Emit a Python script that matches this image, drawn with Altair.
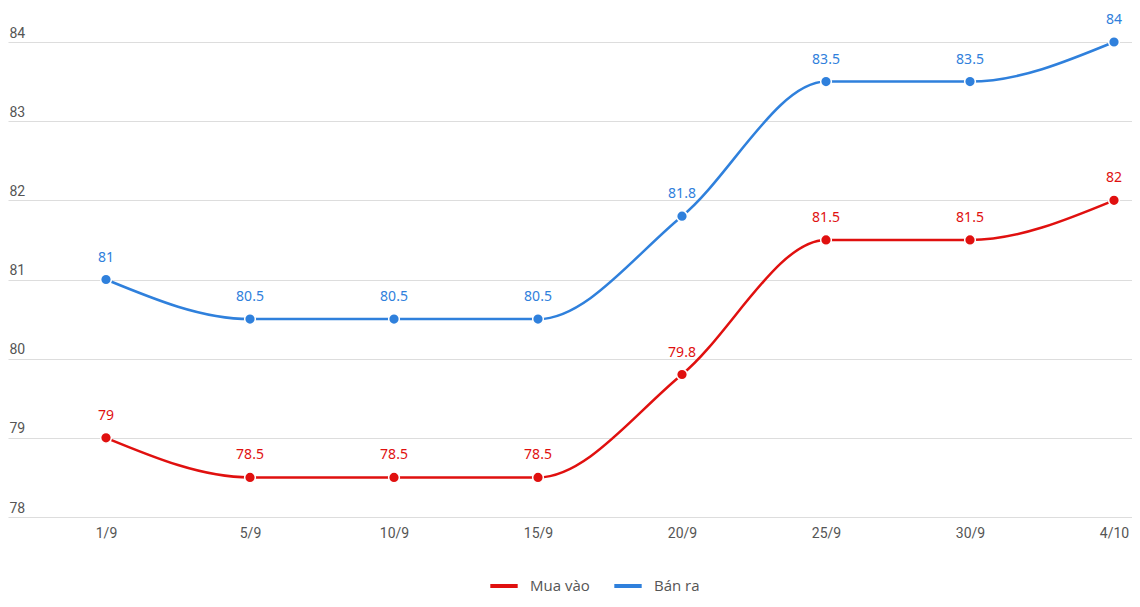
import json
import altair as alt
import pandas as pd

dates = ["1/9", "5/9", "10/9", "15/9", "20/9", "25/9", "30/9", "4/10"]
mua_vao = [79, 78.5, 78.5, 78.5, 79.8, 81.5, 81.5, 82]
ban_ra = [81, 80.5, 80.5, 80.5, 81.8, 83.5, 83.5, 84]
series_names = ["Mua vào", "Bán ra"]
series_colors = ["#e0100f", "#2f80dc"]
y_ticks = [78, 79, 80, 81, 82, 83, 84]

rows = []
for i, d in enumerate(dates):
    rows.append({"idx": i, "date": d, "series": series_names[0], "value": mua_vao[i]})
    rows.append({"idx": i, "date": d, "series": series_names[1], "value": ban_ra[i]})
df = pd.DataFrame(rows)

W = 1124
H = 475

color = alt.Color(
    "series:N",
    scale=alt.Scale(domain=series_names, range=series_colors),
    legend=alt.Legend(
        title=None,
        orient="none",
        legendX=480,
        legendY=528,
        direction="horizontal",
        symbolType="stroke",
        symbolStrokeWidth=4,
        symbolSize=750,
        labelFont="Open Sans",
        labelFontSize=15,
        labelColor="#555555",
        columnPadding=16,
        labelOffset=10,
    ),
)

label_expr = json.dumps(dates) + "[datum.value]"

x = alt.X(
    "idx:Q",
    scale=alt.Scale(domain=[-98 / 144, 7 + (W - 1106) / 144], nice=False, zero=False),
    axis=alt.Axis(
        title=None,
        values=list(range(len(dates))),
        labelExpr=label_expr,
        domain=False,
        ticks=False,
        grid=False,
        labelAngle=0,
        labelFont="Roboto",
        labelFontSize=14,
        labelColor="#555555",
        labelPadding=9,
    ),
)
y = alt.Y(
    "value:Q",
    scale=alt.Scale(domain=[78, 84], nice=False, zero=False),
    axis=alt.Axis(
        title=None,
        values=y_ticks,
        domain=False,
        ticks=False,
        gridColor="#dddddd",
        gridWidth=1,
        labelAlign="left",
        labelBaseline="bottom",
        labelPadding=-1,
        labelOffset=-2,
        labelFont="Roboto",
        labelFontSize=14,
        labelColor="#555555",
    ),
)

base = alt.Chart(df).encode(x=x, y=y, color=color)

lines = base.mark_line(interpolate="monotone", strokeWidth=2.5)
points = base.mark_circle(size=115, opacity=1, stroke="white", strokeWidth=1.5)
labels = base.mark_text(dy=-22, fontSize=14, font="Noto Sans").encode(text="value:Q")

chart = (
    alt.layer(lines, points, labels)
    .properties(width=W, height=H, padding={"left": 0, "right": 0, "top": 5, "bottom": 5})
    .configure_view(stroke=None)
)

chart.save("out.html", embed_options={"renderer": "svg", "actions": False})
